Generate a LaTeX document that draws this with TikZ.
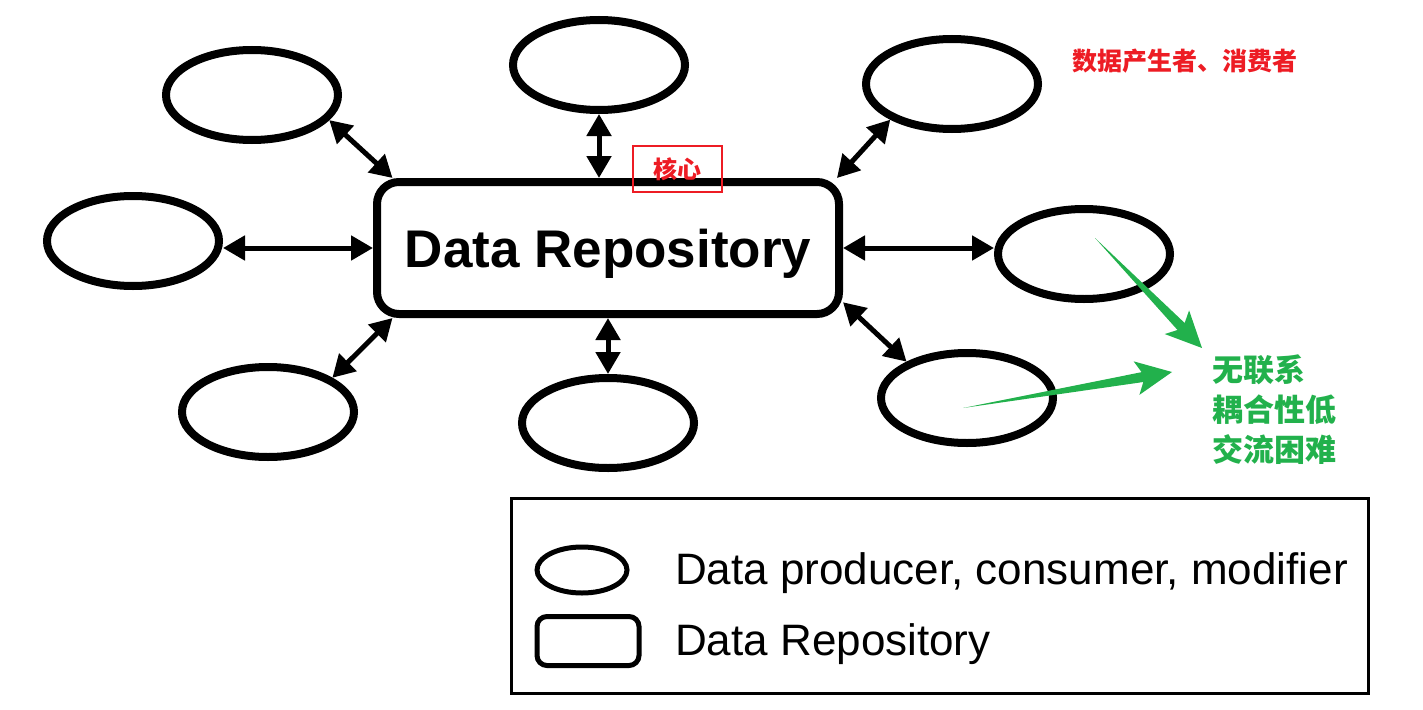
\documentclass[tikz,border=0pt]{standalone}
\usepackage{fontspec}
\setmainfont{Liberation Sans}
\newfontfamily\cjk{Noto Sans CJK SC}
\usetikzlibrary{arrows.meta, shapes.geometric, calc}

\definecolor{markred}{RGB}{237,28,36}
\definecolor{markgreen}{RGB}{34,177,76}

% tapered green pointer: tail, tip
\newcommand\fatpointer[2]{%
  \fill[markgreen] (#1) -- ($(#2)!30pt!(#1)!5pt!90:(#1)$) -- ($(#2)!36pt!(#1)!17pt!90:(#1)$) -- (#2)
    -- ($(#2)!36pt!(#1)!17pt!-90:(#1)$) -- ($(#2)!30pt!(#1)!5pt!-90:(#1)$) -- cycle;}

\begin{document}
\begin{tikzpicture}[x=1pt, y=-1pt, >={Triangle[length=22pt,width=24pt]},
  party/.style={ellipse, draw, line width=8pt, minimum width=172pt, minimum height=90pt, inner sep=0pt},
  link/.style={<->, line width=5pt},
  redtext/.style={text=markred, font=\cjk\bfseries\fontsize{25}{30}\selectfont},
  greentext/.style={text=markgreen, align=left, inner sep=0pt, font=\cjk\bfseries\fontsize{31}{40}\selectfont}]

\useasboundingbox (0,0) rectangle (1423,709);

\node[draw, line width=8pt, rounded corners=22pt, minimum width=462pt, minimum height=132pt, text depth=0pt,
  font=\bfseries\fontsize{53}{60}\selectfont] (rep) at (608,248) {Data Repository};

\node[party] (tl) at (252,95) {};
\node[party] (tc) at (599,65) {};
\node[party] (tr) at (952,84) {};
\node[party] (l) at (133,241) {};
\node[party] (r) at (1084,254) {};
\node[party] (bl) at (268,412) {};
\node[party] (bc) at (608,423) {};
\node[party] (br) at (967,398) {};

\draw[link] (tl.-18) -- (rep.162.5);
\draw[link] (tc.south) -- (rep.north -| tc.south);
\draw[link] (tr.210) -- (rep.17.5);
\draw[link] (l.east |- rep.west) -- (rep.west);
\draw[link] (rep.east) -- (rep.east -| r.west);
\draw[link] (bl.28) -- (rep.-162.5);
\draw[link] (rep.south -| bc.north) -- (bc.north);
\draw[link] (rep.-13) -- (br.149);

\node[draw=markred, line width=2pt, minimum width=89pt, minimum height=46pt, redtext, font=\cjk\bfseries\fontsize{24}{28}\selectfont] (core) at (677,169) {\raisebox{-4pt}{核心}};

\node[redtext] (role) at (1185,61) {数据产生者、消费者};

\node[greentext, anchor=west] (note) at (1212,410) {无联系\\耦合性低\\交流困难};

\coordinate (tail1) at (1095,238);
\coordinate (tip1) at (1202,348);
\coordinate (tail2) at (963,408);
\coordinate (tip2) at (1172,372);
\fatpointer{tail1}{tip1}
\fatpointer{tail2}{tip2}

% legend
\node[draw, line width=3pt, minimum width=857pt, minimum height=195pt] (legend) at (940,596) {};
\node[ellipse, draw, line width=5pt, minimum width=90pt, minimum height=46pt] (keyparty) at (582,570) {};
\node[draw, line width=5pt, rounded corners=10pt, minimum width=102pt, minimum height=49pt] (keyrep) at (588,641) {};
\node[anchor=base west, inner sep=0pt, font=\fontsize{44}{50}\selectfont] (keypartytext) at (675,584) {Data producer, consumer, modifier};
\node[anchor=base west, inner sep=0pt, font=\fontsize{44}{50}\selectfont] (keyreptext) at (675,655) {Data Repository};

\end{tikzpicture}
\end{document}
